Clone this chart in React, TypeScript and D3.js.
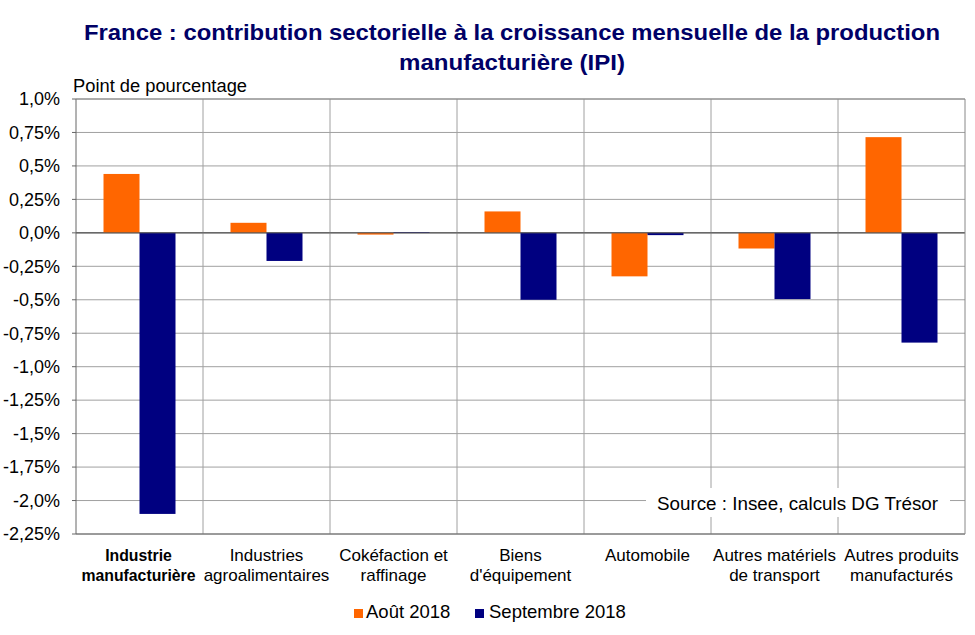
import React from "react";
import * as d3 from "d3";

const categories = [
  ["Industrie", "manufacturière"],
  ["Industries", "agroalimentaires"],
  ["Cokéfaction et", "raffinage"],
  ["Biens", "d'équipement"],
  ["Automobile"],
  ["Autres matériels", "de transport"],
  ["Autres produits", "manufacturés"],
];
const seriesNames = ["Août 2018", "Septembre 2018"];
const seriesColors = ["#FF6600", "#000080"];
const aout2018 = [0.44, 0.075, -0.013, 0.16, -0.325, -0.117, 0.715];
const septembre2018 = [-2.1, -0.21, 0.006, -0.5, -0.017, -0.495, -0.82];
const yTickValues = [1, 0.75, 0.5, 0.25, 0, -0.25, -0.5, -0.75, -1, -1.25, -1.5, -1.75, -2, -2.25];
const yTickLabels = ["1,0%", "0,75%", "0,5%", "0,25%", "0,0%", "-0,25%", "-0,5%", "-0,75%", "-1,0%", "-1,25%", "-1,5%", "-1,75%", "-2,0%", "-2,25%"];
const titleLines = [
  "France : contribution sectorielle à la croissance mensuelle de la production",
  "manufacturière (IPI)",
];
const yAxisTitle = "Point de pourcentage";
const sourceText = "Source : Insee, calculs DG Trésor";

const W = 975;
const H = 635;
const left = 76;
const right = 965;
const top = 99;
const bottom = 534;
const FONT = "'Liberation Sans', Arial, sans-serif";
const NARROW = "'Liberation Sans Narrow', 'Arial Narrow', 'Liberation Sans', Arial, sans-serif";

export default function App() {
  const idx = categories.map((_, i) => String(i));
  const x0 = d3.scaleBand<string>().domain(idx).range([left, right]).paddingInner(0).paddingOuter(0);
  const x1 = d3
    .scaleBand<string>()
    .domain(seriesNames)
    .range([0, x0.bandwidth()])
    .paddingInner(0)
    .paddingOuter(0.764);
  const y = d3.scaleLinear().domain([-2.25, 1]).range([bottom, top]);
  const data = [aout2018, septembre2018];

  return (
    <svg width={W} height={H} style={{ position: "absolute", left: 0, top: 0, background: "#fff" }}>
      <rect x={0} y={0} width={W} height={H} fill="#fff" />
      {titleLines.map((t, i) => (
        <text
          key={i}
          x={512}
          y={40 + i * 30}
          textAnchor="middle"
          fontFamily={NARROW}
          fontWeight="bold"
          fontSize={22}
          fill="#000066"
          textLength={i === 0 ? 856 : 226}
          lengthAdjust="spacingAndGlyphs"
        >
          {t}
        </text>
      ))}
      <text x={73} y={92} fontFamily={FONT} fontSize={17.5} fill="#000" textLength={174} lengthAdjust="spacingAndGlyphs">
        {yAxisTitle}
      </text>

      {/* horizontal gridlines */}
      {yTickValues.map((v, i) => (
        <g key={"g" + i}>
          <line x1={left} x2={right} y1={y(v)} y2={y(v)} stroke={v === 0 ? "#555" : "#a0a0a0"} strokeWidth={1} />
          <line x1={left - 4} x2={left} y1={y(v)} y2={y(v)} stroke="#666" />
          <text
            x={60}
            y={y(v)}
            dy="0.35em"
            textAnchor="end"
            fontFamily={FONT}
            fontSize={18}
            fill="#000"
          >
            {yTickLabels[i]}
          </text>
        </g>
      ))}
      {/* vertical gridlines */}
      {idx.slice(1).map((c) => (
        <line key={"v" + c} x1={x0(c)!} x2={x0(c)!} y1={top} y2={bottom} stroke="#a0a0a0" />
      ))}

      {/* source box */}
      <rect x={646} y={488} width={304} height={29} fill="#fff" />
      <text x={657} y={510} fontFamily={FONT} fontSize={17.5} fill="#000" textLength={281} lengthAdjust="spacingAndGlyphs">
        {sourceText}
      </text>

      {/* bars */}
      {data.map((vals, s) =>
        vals.map((v, i) => {
          const xx = x0(String(i))! + x1(seriesNames[s])!;
          const y0 = y(0);
          const yv = y(v);
          return (
            <rect
              key={s + "-" + i}
              x={xx}
              y={Math.min(y0, yv)}
              width={x1.bandwidth()}
              height={Math.abs(yv - y0)}
              fill={seriesColors[s]}
            />
          );
        })
      )}
      <line x1={left} x2={right} y1={y(0)} y2={y(0)} stroke="#555" />

      {/* frame */}
      <line x1={left} x2={left} y1={top} y2={bottom} stroke="#666" />
      <line x1={left} x2={right} y1={bottom} y2={bottom} stroke="#666" />
      <line x1={right} x2={right} y1={top} y2={bottom} stroke="#888" />
      <line x1={left} x2={right} y1={top} y2={top} stroke="#888" />

      {/* x labels */}
      {categories.map((lines, i) => {
        const cx = x0(String(i))! + x0.bandwidth() / 2;
        return (
          <text
            key={"x" + i}
            textAnchor="middle"
            fontFamily={NARROW}
            fontSize={i === 0 ? 15.8 : 17}
            fontWeight={i === 0 ? "bold" : "normal"}
            fill="#000"
          >
            {lines.map((l, j) => (
              <tspan key={j} x={cx - (i === 0 ? 1 : 0)} y={561 + j * 20}>
                {l}
              </tspan>
            ))}
          </text>
        );
      })}

      {/* legend */}
      <rect x={354} y={609} width={9} height={9} fill={seriesColors[0]} />
      <text x={366} y={618} fontFamily={FONT} fontSize={18.5} fill="#000">
        {seriesNames[0]}
      </text>
      <rect x={475} y={609} width={9} height={9} fill={seriesColors[1]} />
      <text x={489} y={618} fontFamily={FONT} fontSize={18.5} fill="#000">
        {seriesNames[1]}
      </text>
    </svg>
  );
}
